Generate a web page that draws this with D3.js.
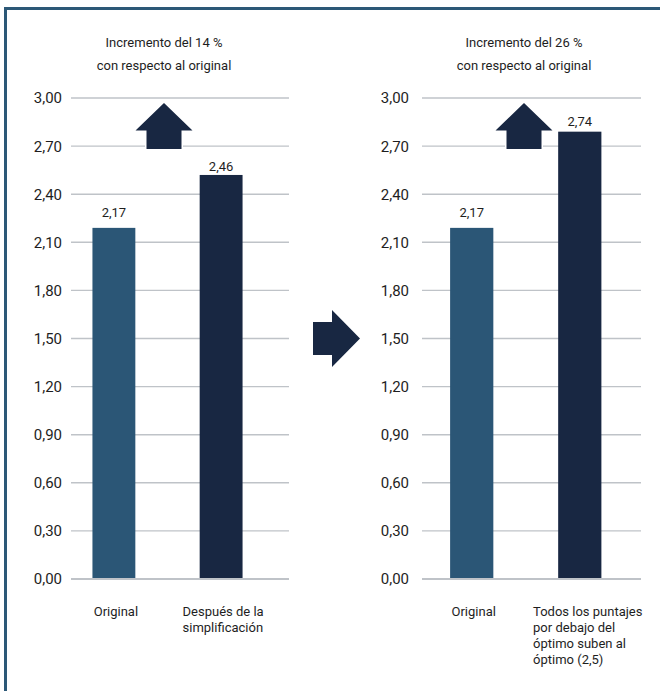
<!DOCTYPE html>
<html>
<head>
<meta charset="utf-8">
<script src="https://cdn.jsdelivr.net/npm/d3@7"></script>
<style>
  body { margin: 0; background: #fff; }
  svg text { font-family: Roboto, "Noto Sans", sans-serif; fill: #1e1e1e; }
</style>
</head>
<body>
<div id="chart"></div>
<script>
// data
const yTicks = [0, 0.3, 0.6, 0.9, 1.2, 1.5, 1.8, 2.1, 2.4, 2.7, 3.0];

const titlesLeft = ["Incremento del 14 %", "con respecto al original"];
const categoriesLeft = [["Original"], ["Después de la", "simplificación"]];
const barValuesLeft = [2.19, 2.52];     // bar heights as drawn
const labelValuesLeft = [2.17, 2.46];   // printed values

const titlesRight = ["Incremento del 26 %", "con respecto al original"];
const categoriesRight = [["Original"], ["Todos los puntajes", "por debajo del", "óptimo suben al", "óptimo (2,5)"]];
const barValuesRight = [2.19, 2.79];
const labelValuesRight = [2.17, 2.74];

const barColors = ["#2b5676", "#182742"];

const width = 660, height = 691;
const svg = d3.select("#chart").append("svg")
    .attr("width", width)
    .attr("height", height);

// frame (left and top rule)
svg.append("rect").attr("x", 4).attr("y", 7).attr("width", width - 4).attr("height", 3).attr("fill", "#2c5877");
svg.append("rect").attr("x", 4).attr("y", 7).attr("width", 3).attr("height", height - 7).attr("fill", "#2c5877");

const es = d3.formatLocale({decimal: ",", thousands: ".", grouping: [3], currency: ["", " €"]});
const fmt = es.format(".2f");

const y = d3.scaleLinear().domain([0, 3]).range([579, 98]);

function drawPanel(p) {
    const g = svg.append("g");

    const x = d3.scaleBand()
        .domain(d3.range(p.values.length))
        .range([p.bandStart, p.bandEnd])
        .paddingInner(0.6)
        .paddingOuter(0.2);

    // gridlines
    g.selectAll("line.grid")
        .data(yTicks)
        .enter()
        .append("line")
            .attr("class", "grid")
            .attr("x1", p.gridStart)
            .attr("x2", p.gridEnd)
            .attr("y1", d => y(d))
            .attr("y2", d => y(d))
            .attr("stroke", "#bfc3c8")
            .attr("stroke-width", d => d === 0 ? 2.2 : 1.4);

    g.selectAll("text.tick")
        .data(yTicks)
        .enter()
        .append("text")
            .attr("class", "tick")
            .attr("x", p.tickX)
            .attr("y", d => y(d))
            .attr("dy", "0.36em")
            .attr("text-anchor", "end")
            .style("font-size", "15px")
            .text(d => fmt(d));

    // titles
    g.selectAll("text.title")
        .data(p.titles)
        .enter()
        .append("text")
            .attr("class", "title")
            .attr("x", p.centerX)
            .attr("y", (d, i) => 47 + i * 23)
            .attr("text-anchor", "middle")
            .style("font-size", "13px")
            .text(d => d);

    // up arrow, white outline cuts the gridlines
    const top = 103, cx = p.centerX;
    const arrow = [[cx, top], [cx + 28.5, top + 27.5], [cx + 17.5, top + 27.5], [cx + 17.5, top + 46],
                   [cx - 17.5, top + 46], [cx - 17.5, top + 27.5], [cx - 28.5, top + 27.5]];
    g.append("path")
        .attr("d", d3.line()(arrow) + "Z")
        .attr("fill", "#182742")
        .attr("stroke", "#fff")
        .attr("stroke-width", 3)
        .attr("paint-order", "stroke");

    // bars
    g.selectAll("rect.bar")
        .data(p.values)
        .enter()
        .append("rect")
            .attr("class", "bar")
            .attr("x", (d, i) => x(i))
            .attr("width", x.bandwidth())
            .attr("y", d => y(d))
            .attr("height", d => y(0) - y(d) - 1)
            .attr("fill", (d, i) => barColors[i]);

    g.selectAll("text.value")
        .data(p.labels)
        .enter()
        .append("text")
            .attr("class", "value")
            .attr("x", (d, i) => x(i) + x.bandwidth() / 2)
            .attr("y", d => y(d) - 14)
            .attr("text-anchor", "middle")
            .style("font-size", "13px")
            .text(d => fmt(d));

    // category labels, block centred under the bar, lines left aligned
    p.categories.forEach((lines, i) => {
        const t = g.append("text")
            .style("font-size", "13px");
        t.selectAll("tspan")
            .data(lines)
            .enter()
            .append("tspan")
                .attr("y", (d, k) => 616 + k * 16)
                .text(d => d);
        let w = 0;
        t.selectAll("tspan").each(function() { w = Math.max(w, this.getComputedTextLength()); });
        const left = x(i) + x.bandwidth() / 2 - w / 2 + (lines.length > 2 ? 8 : 2);
        t.selectAll("tspan").attr("x", left);
    });
}

drawPanel({
    titles: titlesLeft, categories: categoriesLeft, values: barValuesLeft, labels: labelValuesLeft,
    gridStart: 71, gridEnd: 289, tickX: 62, bandStart: 71, bandEnd: 264, centerX: 164
});
drawPanel({
    titles: titlesRight, categories: categoriesRight, values: barValuesRight, labels: labelValuesRight,
    gridStart: 422, gridEnd: 641, tickX: 409, bandStart: 428.5, bandEnd: 623, centerX: 524
});

// arrow between the panels
const mid = [[313, 322], [332, 322], [332, 310], [360, 338.5], [332, 367], [332, 355], [313, 355]];
svg.append("path")
    .attr("d", d3.line()(mid) + "Z")
    .attr("fill", "#182742");
</script>
</body>
</html>
